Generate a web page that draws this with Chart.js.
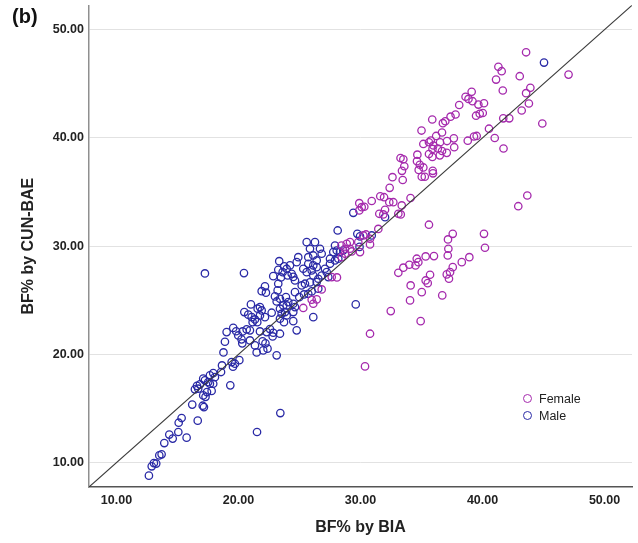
<!DOCTYPE html>
<html><head><meta charset="utf-8">
<script src="https://cdn.jsdelivr.net/npm/chart.js@4/dist/chart.umd.min.js"></script>
<style>
html,body{margin:0;padding:0;background:#fff;}
#wrap{position:relative;width:638px;height:543px;}
canvas{position:absolute;left:0;top:0;}
.panel{position:absolute;left:12px;top:6px;font:bold 20px 'Liberation Sans',Arial,sans-serif;line-height:20px;color:#111;}
.leg{position:absolute;font:12.5px 'Liberation Sans',Arial,sans-serif;line-height:16px;color:#222;white-space:nowrap;}
.dot{position:absolute;width:9px;height:9px;border-radius:50%;box-sizing:border-box;border:1.4px solid;}
</style></head>
<body><div id="wrap"><canvas id="c" width="638" height="543"></canvas>
<div class="panel">(b)</div>
<div class="dot" style="left:522.8px;top:393.8px;border-color:#a52aad"></div>
<div class="leg" style="left:539px;top:390.5px">Female</div>
<div class="dot" style="left:522.8px;top:411.2px;border-color:#2a2aa6"></div>
<div class="leg" style="left:539px;top:408px">Male</div>
</div>
<script>
const seriesNames = ['Female', 'Male'];
const tickValues = [10, 20, 30, 40, 50];
const axisRange = [7.75, 52.25];
const refLine = [7.75, 52.25];

const femaleBIA = [
43.57,47.05,41.30,41.57,41.11,43.05,41.66,43.92,43.57,43.80,
43.21,44.90,41.70,42.19,40.53,41.00,41.72,39.11,38.61,38.85,
39.18,39.66,40.12,38.09,39.47,39.77,40.02,37.79,37.38,36.95,
36.75,35.88,35.00,36.68,36.20,37.65,37.68,39.30,39.52,38.79,
37.09,36.52,36.34,36.68,37.07,35.76,35.61,35.97,35.90,35.15,
35.61,35.89,36.50,34.66,33.28,33.51,33.59,33.40,34.63,34.86,
34.77,35.15,35.02,35.27,35.92,35.94,33.46,32.62,32.39,31.62,
31.93,30.92,29.90,30.10,30.31,32.01,31.87,32.36,32.69,33.38,
33.30,33.10,34.10,31.54,31.46,42.93,43.67,35.61,37.17,37.56,
40.12,30.45,29.90,
37.20,37.15,40.20,38.92,38.30,36.02,35.34,34.61,34.74,34.51,
34.00,33.51,33.10,35.70,35.34,35.51,34.11,35.02,34.06,36.70,
37.56,37.34,37.07,37.25,32.48,34.93,30.78,30.37,
30.23,30.78,29.82,29.14,28.87,28.44,28.73,29.14,29.28,29.96,
28.46,28.73,30.78,27.64,28.07,26.82,26.00,26.41,25.31,26.13
];
const femaleCUN = [
47.91,45.85,46.57,46.16,45.39,45.70,44.38,44.63,44.13,43.18,
42.53,41.33,41.81,41.81,40.85,39.99,39.02,44.26,43.80,43.60,
43.39,43.08,43.20,43.04,42.05,42.23,42.30,42.16,41.96,41.54,
41.36,41.70,40.68,40.50,40.18,39.96,39.14,40.13,40.18,39.74,
39.71,39.60,39.02,38.79,38.62,39.76,39.60,39.30,38.98,39.44,
38.51,38.24,38.39,38.45,38.14,38.03,37.38,36.96,37.85,37.52,
37.04,37.27,36.41,36.41,36.96,36.73,36.11,36.37,35.39,34.61,
34.52,34.17,33.97,33.60,33.64,33.36,32.93,34.06,34.06,33.76,
32.93,32.99,34.45,32.99,31.59,33.69,34.68,31.98,30.62,31.14,
31.14,31.08,33.30,
29.76,29.14,29.85,28.98,28.52,29.08,29.05,28.84,28.52,28.22,
28.28,28.01,27.54,27.36,26.83,26.58,26.37,25.75,24.99,25.45,
28.06,27.60,27.39,26.99,24.00,23.07,21.91,18.89,
30.99,30.68,30.37,30.37,30.22,30.06,29.76,29.76,29.51,29.45,
28.98,29.30,30.16,27.14,27.11,26.00,25.05,25.08,24.29,24.68
];

const maleBIA = [
12.66,12.89,13.07,13.26,13.51,13.70,13.92,14.33,14.61,15.07,
15.75,15.10,15.34,16.66,16.21,17.07,17.17,17.11,17.30,17.42,
17.80,16.43,16.60,16.70,16.84,17.25,17.11,17.52,17.66,17.93,
18.07,17.66,17.93,18.57,18.65,19.33,19.55,19.71,20.07,19.44,
18.77,18.89,19.03,19.57,19.81,19.98,17.25,
20.45,23.34,23.75,23.95,23.26,23.62,22.85,24.03,23.26,23.21,
22.99,22.17,21.90,22.25,23.89,23.40,23.67,23.95,23.13,21.02,
21.76,21.57,21.90,20.48,20.80,21.08,21.35,21.76,22.17,22.72,
23.40,23.54,23.81,23.95,23.40,23.73,21.54,21.16,20.34,20.67,
20.94,21.76,22.31,22.85,23.40,22.58,22.80,20.25,20.31,20.94,
21.35,21.49,22.03,22.38,23.13,21.98,22.21,24.49,24.77,26.13,
24.63,24.49,24.49,24.08,24.98,24.63,25.18,25.37,25.72,26.00,
24.63,25.45,25.86,26.41,26.54,24.90,24.77,24.36,24.49,24.22,
25.31,25.72,26.13,25.59,26.00,26.41,27.09,27.23,26.82,26.13,
26.54,27.36,25.59,26.27,25.86,26.68,26.13,26.82,25.72,26.41,
27.50,27.50,27.91,27.77,28.05,28.32,28.59,27.91,28.13,29.41,
29.74,29.96,30.92,29.92,23.43,21.52,29.61,23.48,32.01,45.04,
28.18
];
const maleCUN = [
8.80,9.66,9.96,9.91,10.67,10.77,11.81,12.59,12.22,12.83,
12.31,13.69,14.12,13.88,15.36,15.26,15.13,16.21,16.08,16.52,
16.63,16.77,17.09,16.83,17.23,17.60,17.76,17.44,18.06,18.27,
17.90,17.29,17.29,18.37,18.98,17.14,18.86,19.14,19.47,19.29,
20.18,21.17,22.06,22.45,22.14,21.75,27.48,
27.51,28.61,28.13,27.91,27.82,27.60,27.23,27.29,26.53,25.91,
25.36,26.28,25.84,25.70,25.29,25.14,24.52,24.52,24.89,24.62,
24.37,24.22,24.06,23.91,23.67,23.44,23.23,23.60,23.44,23.85,
24.22,23.76,23.91,23.60,23.30,22.98,22.98,22.98,22.12,22.31,
22.22,22.12,22.06,22.00,21.91,22.34,21.66,21.39,21.02,21.29,
20.83,20.18,20.37,20.53,19.91,21.20,21.02,23.07,22.22,23.44,
24.37,23.91,24.68,24.83,25.29,25.75,26.37,25.54,25.60,25.82,
26.83,26.53,26.65,26.68,26.07,28.98,28.52,27.45,27.16,28.22,
27.91,28.37,28.22,27.60,27.76,28.06,27.91,27.60,27.29,27.29,
26.99,27.14,30.37,30.37,29.76,29.76,29.14,29.30,28.98,28.68,
28.84,28.37,28.68,29.45,29.60,29.45,29.60,30.06,31.45,33.08,
31.14,30.90,30.99,29.93,14.58,12.83,24.62,27.11,32.68,46.96,
28.84
];

const femaleColor = '#a52aad';
const maleColor = '#2a2aa6';
const FONT = "'Liberation Sans', Arial, sans-serif";

const toPts = (xs, ys) => xs.map((x, i) => ({x: x, y: ys[i]}));
const fixTicks = s => { s.ticks = tickValues.map(v => ({value: v})); };
const fmt = v => Number(v).toFixed(2);

new Chart(document.getElementById('c'), {
  type: 'scatter',
  data: {
    datasets: [
      {
        label: 'ref',
        data: refLine.map(v => ({x: v, y: v})),
        showLine: true,
        borderColor: '#3a3a3a',
        borderWidth: 1.1,
        pointRadius: 0
      },
      {
        label: seriesNames[0],
        data: toPts(femaleBIA, femaleCUN),
        pointRadius: 3.7,
        pointBorderWidth: 1.3,
        pointBorderColor: femaleColor,
        pointBackgroundColor: 'rgba(255,255,255,0)'
      },
      {
        label: seriesNames[1],
        data: toPts(maleBIA, maleCUN),
        pointRadius: 3.7,
        pointBorderWidth: 1.3,
        pointBorderColor: maleColor,
        pointBackgroundColor: 'rgba(255,255,255,0)'
      }
    ]
  },
  options: {
    responsive: false,
    animation: false,
    events: [],
    layout: {padding: {top: 5, right: 6, left: 0, bottom: 0}},
    plugins: {legend: {display: false}, tooltip: {enabled: false}},
    scales: {
      x: {
        type: 'linear',
        min: axisRange[0], max: axisRange[1],
        afterBuildTicks: fixTicks,
        afterFit: s => { s.height = 56; s.paddingLeft = 0; s.paddingRight = 0; },
        grid: {display: false, drawTicks: false},
        border: {display: true, color: '#555555', width: 1.5},
        ticks: {padding: 6, callback: fmt, color: '#222', maxRotation: 0, autoSkip: false,
                font: {family: FONT, size: 12.5, weight: 'bold'}},
        title: {display: true, text: 'BF% by BIA', color: '#222',
                font: {family: FONT, size: 16, weight: 'bold'}, padding: {top: 0, bottom: 6}}
      },
      y: {
        type: 'linear',
        min: axisRange[0], max: axisRange[1],
        afterBuildTicks: fixTicks,
        afterFit: s => { s.width = 89; s.paddingTop = 0; s.paddingBottom = 0; },
        grid: {display: true, drawTicks: false, color: '#e2e2e2', lineWidth: 1},
        border: {display: true, color: '#8f8f8f', width: 1.5},
        ticks: {padding: 5, callback: fmt, color: '#222', autoSkip: false,
                font: {family: FONT, size: 12.5, weight: 'bold'}},
        title: {display: true, text: 'BF% by CUN-BAE', color: '#222',
                font: {family: FONT, size: 16, weight: 'bold'}, padding: {top: 19, bottom: 0}}
      }
    }
  }
});
</script>
</body></html>
